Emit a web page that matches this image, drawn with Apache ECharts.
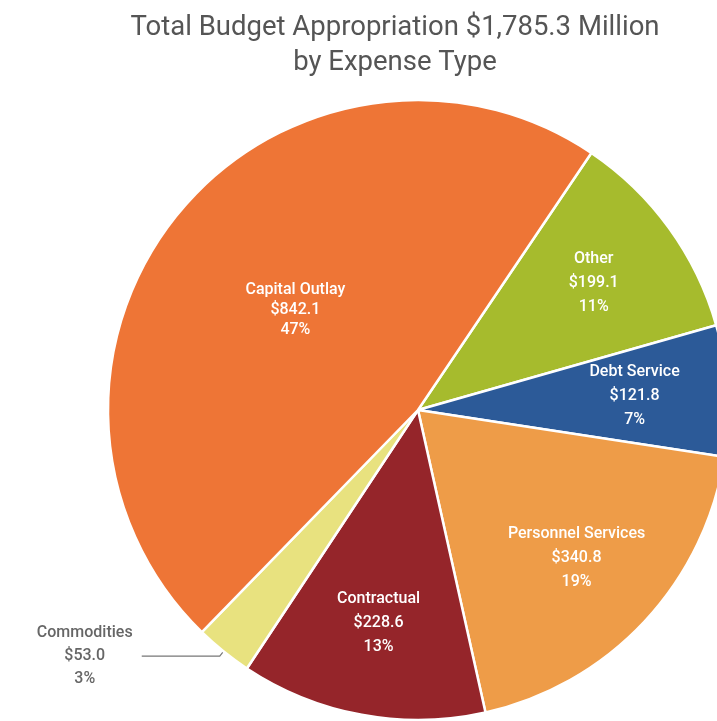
<!DOCTYPE html>
<html>
<head>
<meta charset="utf-8">
<script src="https://cdn.jsdelivr.net/npm/echarts@6/dist/echarts.min.js"></script>
<style>
  html, body { margin: 0; padding: 0; background: #fff; }
  #main { width: 717px; height: 721px; }
</style>
</head>
<body>
<div id="main"></div>
<script>
// slices in drawing order (clockwise from the top right)
const categories = ["Other", "Debt Service", "Personnel Services", "Contractual", "Commodities", "Capital Outlay"];
const amounts = [199.1, 121.8, 340.8, 228.6, 53.0, 842.1];
const palette = ["#a6bb2d", "#2c5a98", "#ee9c48", "#95252a", "#e8e27f", "#ee7536"];

// which label goes where
const innerLabels = ["Capital Outlay"];
const outerLabels = ["Commodities"];

var chart = echarts.init(document.getElementById("main"));
var FONT = "Roboto, 'Noto Sans', sans-serif";

function labelText(p) {
  return p.name + "\n$" + p.value.toFixed(1) + "\n" + Math.round(p.percent) + "%";
}

var mainData = categories.map(function (name, i) {
  var d = { name: name, value: amounts[i], itemStyle: { color: palette[i] } };
  if (innerLabels.indexOf(name) >= 0) {
    d.label = { show: true, position: "inside", fontSize: 16, lineHeight: 20 };
  } else if (outerLabels.indexOf(name) >= 0) {
    d.label = {
      show: true,
      position: "outside",
      color: "#666",
      formatter: function (p) {
        return "{c|" + p.name + "}\n{c|$" + p.value.toFixed(1) + "}\n{c|" + Math.round(p.percent) + "%}";
      },
      rich: { c: { width: 104, align: "center", fontSize: 16, lineHeight: 23, color: "#666", fontFamily: FONT } }
    };
    d.labelLine = { show: true, length: 6, length2: 78, lineStyle: { color: "#777", width: 1.2 } };
  }
  return d;
});

var overlayData = categories.map(function (name, i) {
  var hide = innerLabels.indexOf(name) >= 0 || outerLabels.indexOf(name) >= 0;
  return { name: name, value: amounts[i], label: { show: !hide } };
});

var option = {
  backgroundColor: "#fff",
  title: {
    text: "Total Budget Appropriation $1,785.3 Million\nby Expense Type",
    left: 390,
    textAlign: "center",
    top: 6,
    textStyle: { color: "#555", fontSize: 27.5, fontWeight: "normal", lineHeight: 35, fontFamily: FONT }
  },
  series: [
    {
      type: "pie",
      center: [418, 410],
      radius: [0, 310],
      startAngle: 56,
      clockwise: true,
      avoidLabelOverlap: false,
      itemStyle: { borderColor: "#fff", borderWidth: 2.5 },
      label: { show: false, color: "#fff", fontWeight: 500, fontFamily: FONT, formatter: labelText },
      labelLine: { show: false },
      emphasis: { disabled: true },
      data: mainData
    },
    {
      // transparent copy, only to place the outer-ring labels
      type: "pie",
      center: [418, 410],
      radius: [118, 310],
      startAngle: 56,
      clockwise: true,
      silent: true,
      avoidLabelOverlap: false,
      itemStyle: { color: "rgba(0,0,0,0)" },
      label: {
        show: true,
        position: "inside",
        color: "#fff",
        fontSize: 16,
        fontWeight: 500,
        lineHeight: 24,
        fontFamily: FONT,
        formatter: labelText
      },
      labelLine: { show: false },
      emphasis: { disabled: true },
      data: overlayData
    }
  ]
};

chart.setOption(option);
</script>
</body>
</html>
